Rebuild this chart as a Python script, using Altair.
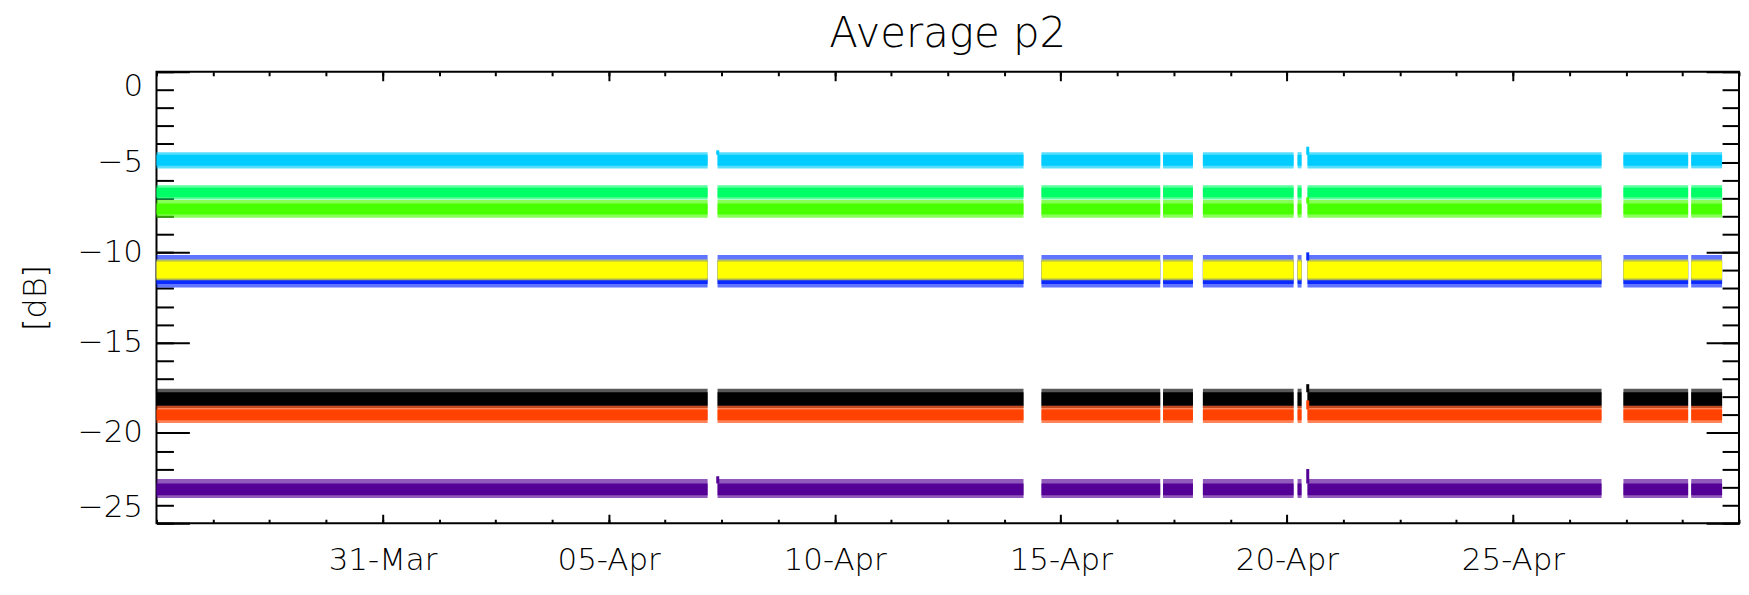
import altair as alt
import pandas as pd

# ---------------- data ----------------
# continuous observation segments (UTC)
seg_start = ["2014-03-26T00:00", "2014-04-07T09:49", "2014-04-14T13:45", "2014-04-17T06:17",
             "2014-04-18T03:26", "2014-04-20T05:41", "2014-04-20T10:58", "2014-04-27T10:39",
             "2014-04-28T22:38"]
seg_end = ["2014-04-07T04:32", "2014-04-14T04:13", "2014-04-17T04:47", "2014-04-17T22:09",
           "2014-04-20T03:35", "2014-04-20T07:48", "2014-04-26T23:01", "2014-04-28T21:00",
           "2014-04-29T15:01"]

# series in drawing order, with the band of values they occupy [dB]
series = ["cyan", "lightgreen", "green", "blue", "yellow", "black", "orange", "purple"]
colors = ["#00CCFF", "#00FF66", "#48FF00", "#0A2AFF", "#FFFF00", "#000000", "#FF4200", "#540096"]
fringe_hi = [-4.45, -6.28, -7.10, -10.15, -10.40, -17.55, -18.50, -22.55]
core_hi = [-4.60, -6.42, -7.30, -10.45, -10.50, -17.75, -18.70, -22.80]
core_lo = [-5.20, -6.95, -7.90, -11.75, -11.45, -18.50, -19.30, -23.45]
fringe_lo = [-5.35, -7.08, -8.08, -11.95, -11.55, -18.62, -19.45, -23.60]

# short excursions at the start of some segments
spike_time = ["2014-04-07T09:55", "2014-04-07T09:55", "2014-04-20T11:05", "2014-04-20T11:05",
              "2014-04-20T11:05", "2014-04-20T11:05", "2014-04-20T11:05", "2014-04-20T11:05"]
spike_series = ["cyan", "purple", "cyan", "green", "blue", "black", "orange", "purple"]
spike_top = [-4.35, -22.40, -4.15, -6.95, -10.00, -17.30, -18.20, -22.00]

x_domain = ["2014-03-26", "2014-04-30"]
x_major = ["2014-03-31", "2014-04-05", "2014-04-10", "2014-04-15", "2014-04-20", "2014-04-25"]
y_major = [-25, -20, -15, -10, -5, 0]
y_domain = [-25, 0]

# ---------------- tables ----------------
def ms(s):
    return int(pd.Timestamp(s, tz="UTC").value // 10**6)

rows = []
for i, s in enumerate(series):
    for part, lo, hi in (("fringe", fringe_lo[i], fringe_hi[i]), ("core", core_lo[i], core_hi[i])):
        for st, en in zip(seg_start, seg_end):
            rows.append({"series": s, "part": part, "start": st + ":00Z", "end": en + ":00Z",
                         "lo": lo, "hi": hi})
bands = pd.DataFrame(rows)

spikes = pd.DataFrame({
    "t": [t + ":00Z" for t in spike_time],
    "series": spike_series,
    "top": spike_top,
    "base": [core_hi[series.index(s)] for s in spike_series],
})

x0, x1 = ms(x_domain[0]), ms(x_domain[1])
xmaj = [ms(d) for d in x_major]
day = 86400000
xmin = [x0 + int(k * 1.25 * day) for k in range(0, 29)]
ymin = list(range(-25, 1))

FONT = "DejaVu Sans Light, DejaVu Sans"
FW = 200
LFS = 31

def xs():
    return alt.Scale(type="utc", domain=[x0, x1], nice=False)

def ys():
    return alt.Scale(domain=y_domain, nice=False, zero=False)

color = alt.Color("series:N", scale=alt.Scale(domain=series, range=colors), legend=None)

common = dict(domain=False, grid=False, tickColor="black", tickWidth=2)

# ---- main layer: bands, bottom major x axis, left major y axis ----
band_layer = alt.Chart(bands).mark_rect().encode(
    x=alt.X("start:T", scale=xs(), axis=alt.Axis(
        orient="bottom", values=xmaj, labelExpr="utcFormat(datum.value, '%d-%b')",
        tickSize=9, offset=-9, labelPadding=22, labelFontSize=LFS, labelFont=FONT,
        labelFontWeight=FW, labelColor="black", title=None, **common)),
    x2="end:T",
    y=alt.Y("lo:Q", scale=ys(), axis=alt.Axis(
        orient="left", values=y_major, format="d", tickSize=33, offset=-33,
        labelPadding=14, labelFontSize=LFS, labelFont=FONT, labelFontWeight=FW,
        labelColor="black", labelFlush=True, title="[dB]", titleFont=FONT, titleFontSize=32,
        titleFontWeight=FW, titleColor="black", titlePadding=25, **common)),
    y2="hi:Q",
    color=color,
    opacity=alt.Opacity("part:N", scale=alt.Scale(domain=["fringe", "core"], range=[0.65, 1.0]),
                        legend=None),
)

spike_layer = alt.Chart(spikes).mark_rule(strokeWidth=3).encode(
    x=alt.X("t:T", scale=xs(), axis=None),
    y=alt.Y("base:Q", scale=ys(), axis=None),
    y2="top:Q",
    color=color,
)

dummy = pd.DataFrame({"t": [x_domain[0] + "T00:00:00Z"], "v": [0]})

def axis_layer(xorient, xvals, xlen, yorient, yvals, ylen):
    return alt.Chart(dummy).mark_point(opacity=0).encode(
        x=alt.X("t:T", scale=xs(), axis=alt.Axis(
            orient=xorient, values=xvals, tickSize=xlen, offset=-xlen, labels=False,
            title=None, **common)),
        y=alt.Y("v:Q", scale=ys(), axis=alt.Axis(
            orient=yorient, values=yvals, tickSize=ylen, offset=-ylen, labels=False,
            title=None, **common)),
    )

ax2 = axis_layer("bottom", xmin, 4, "left", ymin, 17)
ax3 = axis_layer("top", xmaj, 9, "right", y_major, 33)
ax4 = axis_layer("top", xmin, 4, "right", ymin, 17)

chart = alt.layer(band_layer, spike_layer, ax2, ax3, ax4).resolve_scale(
    x="independent", y="independent"
).resolve_axis(
    x="independent", y="independent"
).properties(
    width=1588, height=453,
    title=alt.TitleParams("Average p2", font=FONT, fontSize=42, fontWeight=FW,
                          color="black", anchor="middle", baseline="alphabetic",
                          offset=20, dy=40),
    autosize=alt.AutoSizeParams(type="none"),
    padding={"left": 149, "top": 63, "right": 2, "bottom": 60},
).configure_view(stroke="black", strokeWidth=2)

chart.save("out.html", embed_options={"renderer": "svg", "actions": False})
